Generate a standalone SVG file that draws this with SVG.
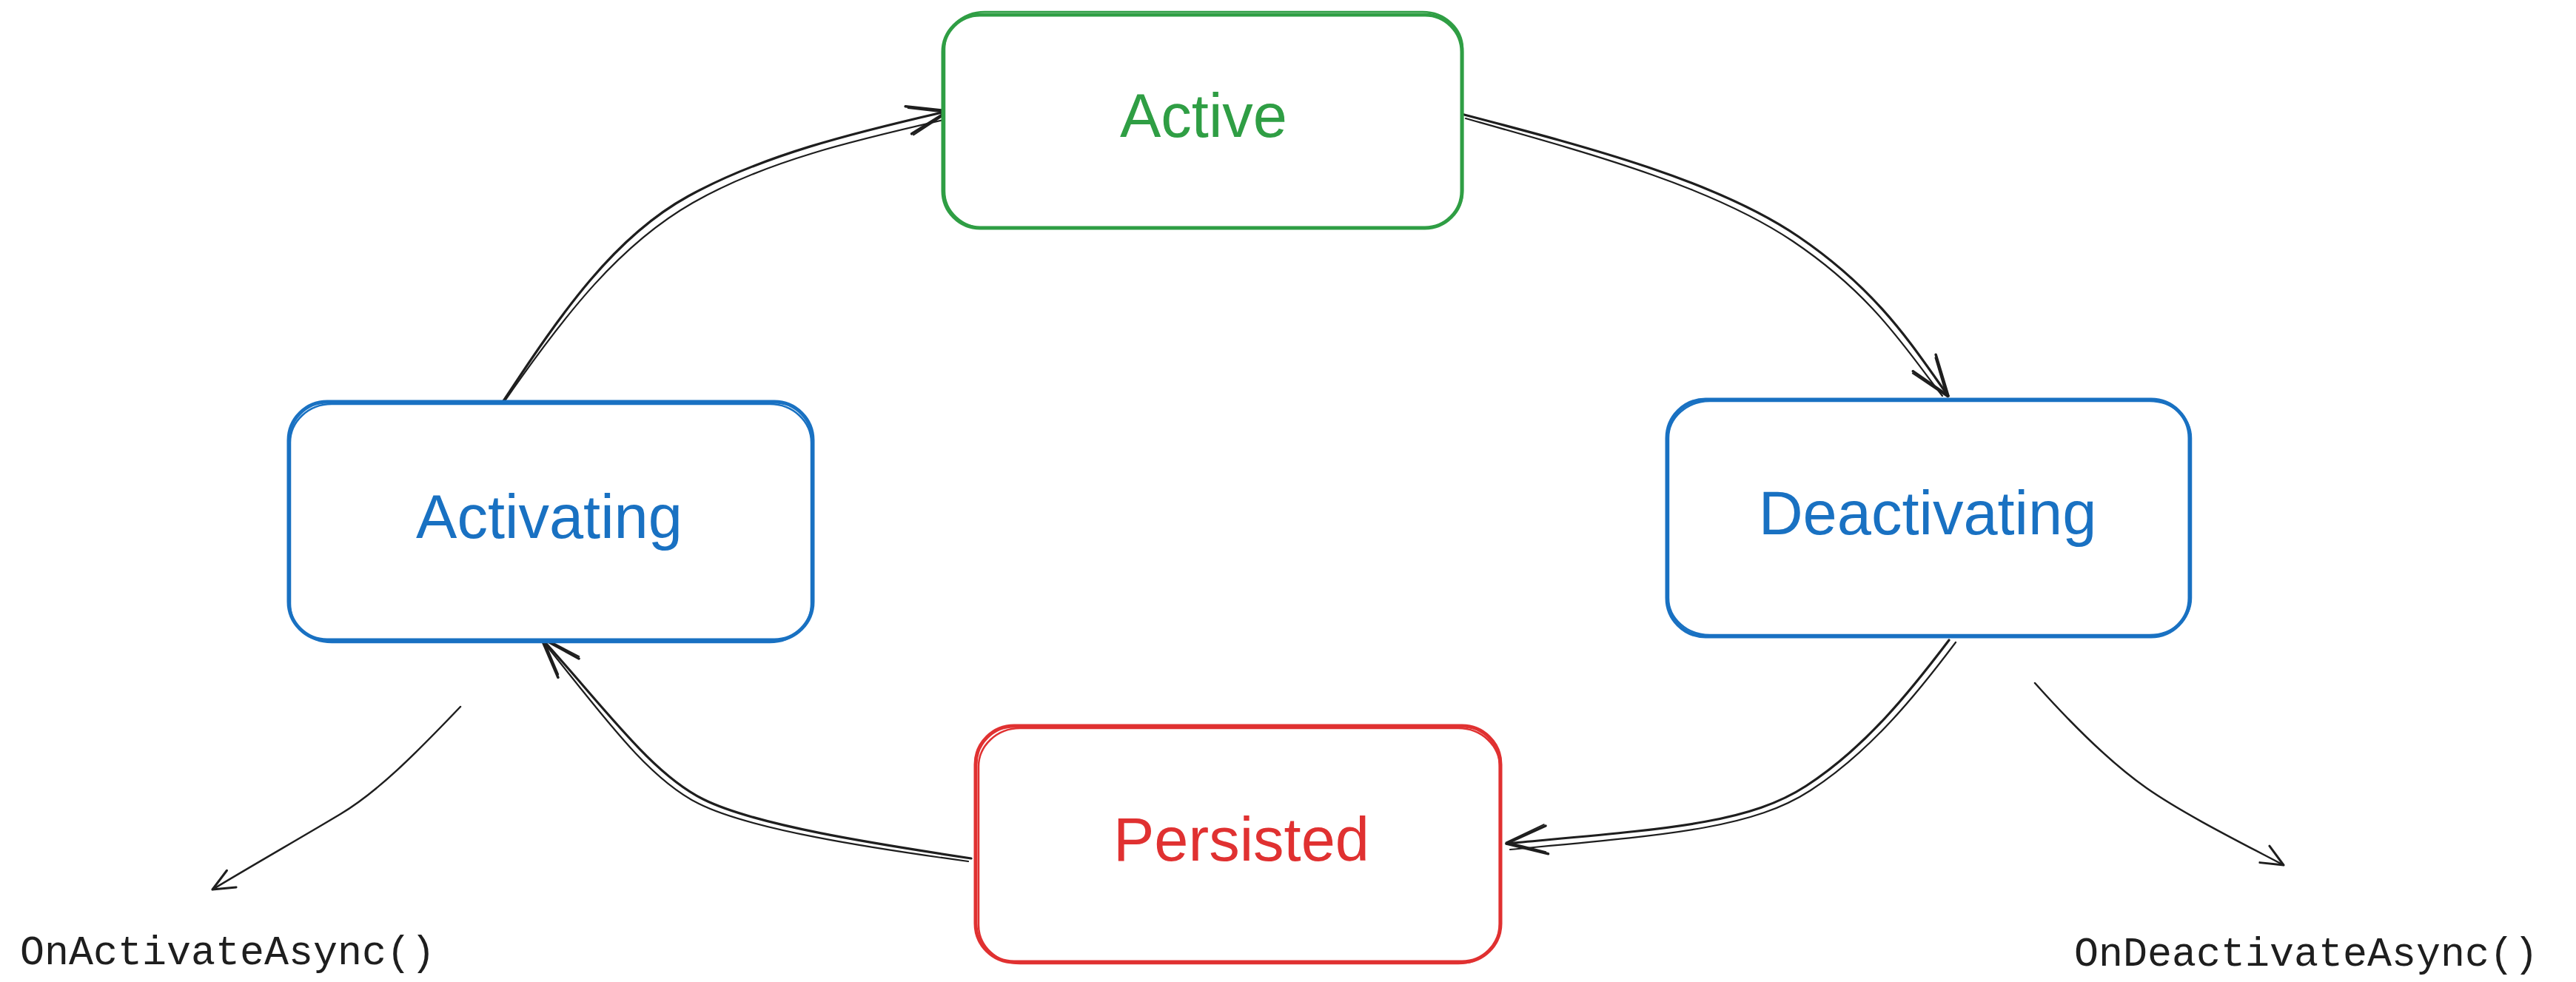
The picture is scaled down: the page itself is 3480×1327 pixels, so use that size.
<svg xmlns="http://www.w3.org/2000/svg" width="3480" height="1327" viewBox="0 0 3480 1327">
  <style>
    .box { fill: #ffffff; stroke-width: 5; stroke-linejoin: round; }
    .box2 { fill: none; stroke-width: 2.5; }
    .green { stroke: #2f9e44; }
    .blue { stroke: #1971c2; }
    .red { stroke: #e03131; }
    .lbl { font-family: "Liberation Sans", Arial, sans-serif; font-size: 83px; text-anchor: middle; }
    .code { font-family: "Liberation Mono", "DejaVu Sans Mono", monospace; font-size: 55px; fill: #1e1e1e; }
    .conn { fill: none; stroke: #1e1e1e; stroke-width: 3.2; stroke-linecap: round; }
    .conn2 { fill: none; stroke: #1e1e1e; stroke-width: 2.2; stroke-linecap: round; }
    .thin { fill: none; stroke: #1e1e1e; stroke-width: 2.5; stroke-linecap: round; }
  </style>
  <defs>
    <marker id="head" markerUnits="userSpaceOnUse" orient="auto" viewBox="-62 -26 66 52" markerWidth="66" markerHeight="52" refX="0" refY="0" overflow="visible">
      <path d="M-55,-19 L0,0 L-55,19" fill="none" stroke="#1e1e1e" stroke-width="3.5" stroke-linecap="round" stroke-linejoin="round"/>
      <path d="M-52,-16 L-1,2 L-53,21" fill="none" stroke="#1e1e1e" stroke-width="2" stroke-linecap="round"/>
    </marker>
    <marker id="headSmall" markerUnits="userSpaceOnUse" orient="auto" viewBox="-36 -16 40 32" markerWidth="40" markerHeight="32" refX="0" refY="0" overflow="visible">
      <path d="M-29,-14 L0,0 L-30,12" fill="none" stroke="#1e1e1e" stroke-width="3" stroke-linecap="round" stroke-linejoin="round"/>
    </marker>
  </defs>
  <rect width="3480" height="1327" fill="#ffffff"/>

  <g id="connectors">
    <!-- Activating -> Active -->
    <path class="conn" d="M678,545 C760,420 830,320 930,265 S1150,180 1281,150" marker-end="url(#head)"/>
    <path class="conn2" d="M681,543 C765,422 838,330 936,274 S1152,190 1284,160"/>
    <!-- Active -> Deactivating -->
    <path class="conn" d="M1978,155 C2150,200 2320,245 2430,320 S2585,470 2632,535" marker-end="url(#head)"/>
    <path class="conn2" d="M1980,160 C2150,208 2312,252 2422,326 S2576,474 2624,535"/>
    <!-- Deactivating -> Persisted -->
    <path class="conn" d="M2633,865 C2580,935 2520,1010 2440,1062 S2250,1120 2035,1140" marker-end="url(#head)"/>
    <path class="conn2" d="M2642,868 C2588,940 2526,1016 2446,1068 S2254,1128 2040,1148"/>
    <!-- Persisted -> Activating -->
    <path class="conn" d="M1312,1160 C1180,1140 1020,1115 950,1080 S820,960 731,862" marker-end="url(#head)"/>
    <path class="conn2" d="M1308,1164 C1176,1146 1014,1121 944,1086 S814,966 733,866"/>
    <!-- Activating -> OnActivateAsync() -->
    <path class="thin" d="M622,955 C560,1020 510,1070 460,1100 S340,1170 287,1202" marker-end="url(#headSmall)"/>
    <!-- Deactivating -> OnDeactivateAsync() -->
    <path class="thin" d="M2749,923 C2800,980 2850,1030 2900,1065 S3030,1140 3085,1169" marker-end="url(#headSmall)"/>
  </g>

  <g id="node-active">
    <rect class="box green" x="1274" y="20" width="701" height="288" rx="50" ry="50"/>
    <rect class="box2 green" x="1276" y="16" width="700" height="292" rx="54" ry="50"/>
    <text class="lbl" x="1626" y="185" fill="#2f9e44">Active</text>
  </g>

  <g id="node-activating">
    <rect class="box blue" x="390" y="543" width="708" height="322" rx="52" ry="52"/>
    <rect class="box2 blue" x="392" y="546" width="704" height="322" rx="56" ry="52"/>
    <text class="lbl" x="742" y="727" fill="#1971c2">Activating</text>
  </g>

  <g id="node-deactivating">
    <rect class="box blue" x="2252" y="540" width="706" height="320" rx="52" ry="52"/>
    <rect class="box2 blue" x="2254" y="542" width="706" height="316" rx="56" ry="50"/>
    <text class="lbl" x="2604" y="722" fill="#1971c2">Deactivating</text>
  </g>

  <g id="node-persisted">
    <rect class="box red" x="1318" y="981" width="709" height="319" rx="52" ry="52"/>
    <rect class="box2 red" x="1322" y="984" width="704" height="318" rx="56" ry="52"/>
    <text class="lbl" x="1677" y="1163" fill="#e03131">Persisted</text>
  </g>

  <g id="label-onactivate">
    <text class="code" x="27" y="1303">OnActivateAsync()</text>
  </g>
  <g id="label-ondeactivate">
    <text class="code" x="2802" y="1305">OnDeactivateAsync()</text>
  </g>
</svg>
